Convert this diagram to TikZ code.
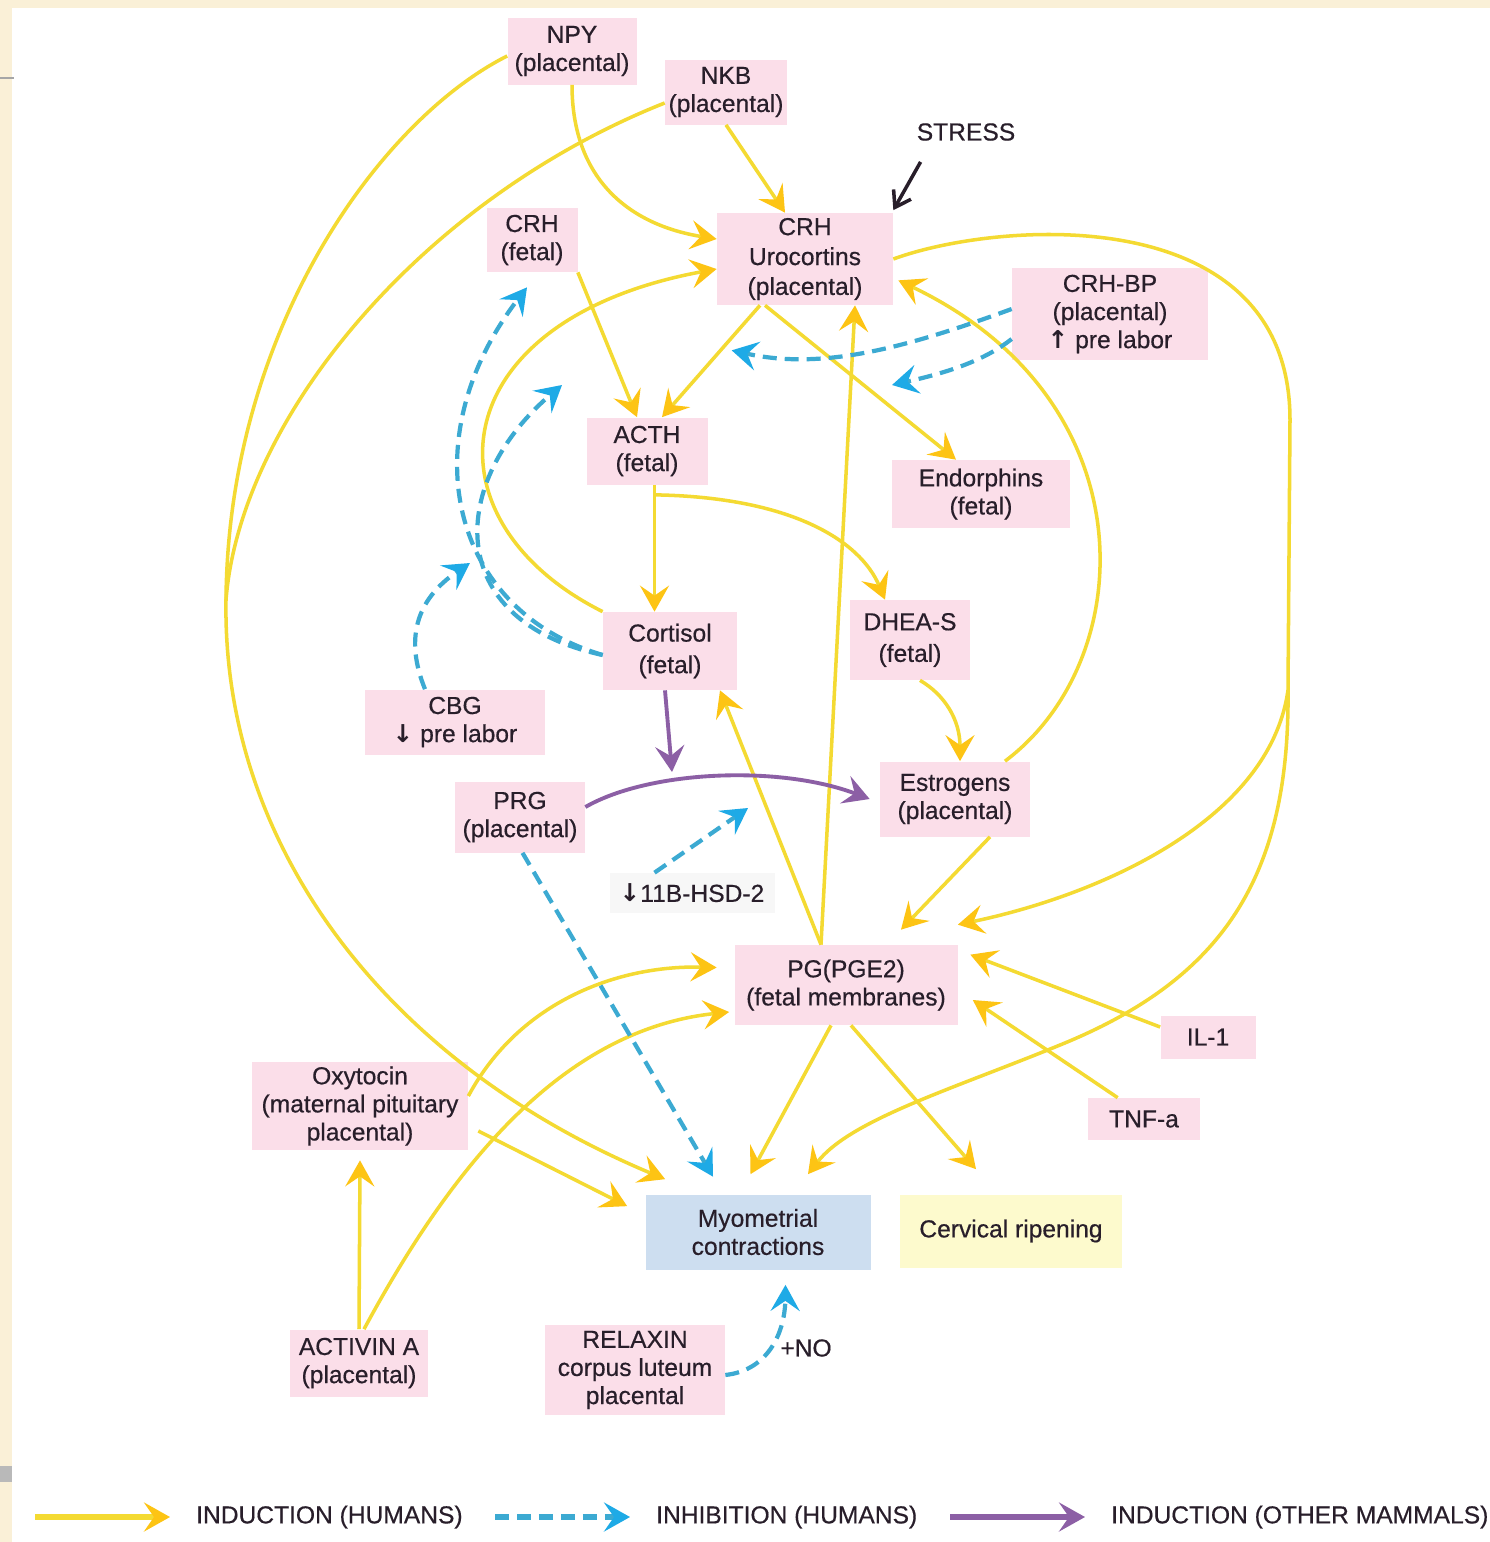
\documentclass[tikz,border=0pt]{standalone}
\usepackage{fontspec}
\setmainfont{Liberation Sans}[FakeBold=0.5]
\newfontfamily\arrowfont{DejaVu Sans}
\usetikzlibrary{arrows.meta,calc}

\definecolor{slidebg}{RGB}{250,240,215}
\definecolor{boxpink}{RGB}{251,222,233}
\definecolor{boxblue}{RGB}{205,222,240}
\definecolor{boxyellow}{RGB}{253,250,205}
\definecolor{inktext}{RGB}{40,30,42}
\definecolor{indline}{RGB}{244,218,50}
\definecolor{indtip}{RGB}{253,196,20}
\definecolor{inhline}{RGB}{60,170,210}
\definecolor{inhtip}{RGB}{30,170,230}
\definecolor{purp}{RGB}{140,95,165}

\newcommand{\up}{{\arrowfont\bfseries ↑}}
\newcommand{\down}{{\arrowfont\bfseries ↓}}

\tikzset{
  hormone/.style={fill=boxpink, text=inktext, align=center, inner sep=0pt,
    font=\fontsize{14}{16}\selectfont},
  sz/.style 2 args={minimum width=#1*0.02cm, minimum height=#2*0.02cm},
  induce/.style={draw=indline, line width=2pt,
    -{Stealth[length=0.52cm,width=0.58cm,inset=0.2cm,color=indtip]}},
  inhibit/.style={draw=inhline, line width=2.4pt, dash pattern=on 0.28cm off 0.16cm,
    -{Stealth[length=0.52cm,width=0.58cm,inset=0.2cm,color=inhtip]}},
  mammal/.style={draw=purp, line width=2.2pt,
    -{Stealth[length=0.52cm,width=0.58cm,inset=0.2cm,color=purp]}},
  legtext/.style={text=inktext, anchor=west, font=\fontsize{14}{16}\selectfont},
}

\begin{document}
\begin{tikzpicture}[x=0.02cm,y=-0.02cm]
		%%%%% START %%%%%
		\useasboundingbox (0,0) rectangle (1490,1542);
		\fill[slidebg] (0,0) rectangle (1490,1542);
		\fill[white] (12,8) rectangle (1490,1542);
		\draw[gray!70, line width=1pt] (0,78) -- (14,78);
		\fill[gray!55] (0,1466) rectangle (12,1482);
		
		% boxes
		\node[hormone, sz={129}{67}] (npy) at (572,51) {NPY\\(placental)};
		\node[hormone, sz={122}{65}] (nkb) at (726,92) {NKB\\(placental)};
		\node[text=inktext, font=\fontsize{14}{16}\selectfont] (stress) at (966,132) {STRESS};
		\node[hormone, sz={91}{64}] (crhf) at (532,240) {CRH\\(fetal)};
		\node[hormone, sz={176}{92}] (crhp) at (805,259) {CRH\\[1pt]Urocortins\\[1pt](placental)};
		\node[hormone, sz={196}{92}] (crhbp) at (1110,314) {CRH-BP\\(placental)\\\up\ pre labor};
		\node[hormone, sz={121}{67}] (acth) at (647,451) {ACTH\\(fetal)};
		\node[hormone, sz={178}{68}] (endo) at (981,494) {Endorphins\\(fetal)};
		\node[hormone, sz={134}{78}] (cort) at (670,651) {Cortisol\\[2pt](fetal)};
		\node[hormone, sz={120}{80}] (dhea) at (910,640) {DHEA-S\\[2pt](fetal)};
		\node[hormone, sz={180}{65}] (cbg) at (455,722) {CBG\\\down\ pre labor};
		\node[hormone, sz={130}{71}] (prg) at (520,817) {PRG\\(placental)};
		\node[hormone, sz={150}{75}] (estr) at (955,799) {Estrogens\\(placental)};
		\node[hormone, fill=gray!6, sz={165}{40}] (hsd) at (692,893) {\down 11B-HSD-2};
		\node[hormone, sz={223}{80}] (pg) at (846,985) {PG(PGE2)\\(fetal membranes)};
		\node[hormone, sz={95}{43}] (il) at (1208,1037) {IL-1};
		\node[hormone, sz={112}{42}] (tnf) at (1144,1119) {TNF-a};
		\node[hormone, sz={216}{88}] (oxy) at (360,1106) {Oxytocin\\(maternal pituitary\\placental)};
		\node[hormone, fill=boxblue, sz={225}{75}] (myo) at (758,1232) {Myometrial\\contractions};
		\node[hormone, fill=boxyellow, sz={222}{73}] (cerv) at (1011,1231) {Cervical ripening};
		\node[hormone, sz={138}{67}] (act) at (359,1363) {ACTIVIN A\\(placental)};
		\node[hormone, sz={180}{90}] (rel) at (635,1370) {RELAXIN\\corpus luteum\\placental};
		\node[text=inktext, font=\fontsize{14}{16}\selectfont] (no) at (806,1348) {+NO};
		
		% points on other arrows
		\coordinate (lmerge) at (226,600);
		\coordinate (rsplit) at (1288,690);
		\coordinate (estcrh) at (892,385);
		\coordinate (acthinh) at (562,385);
		\coordinate (cbginh) at (470,563);
		\coordinate (hsdinh) at (748,808);
		\coordinate (cortinh) at (672,772);
		
		% induction (humans)
		\draw[induce] (npy.south) .. controls (572,180) and (630,225) .. ([yshift=0.4cm]crhp.west);
		\draw[draw=indline, line width=2pt] ([yshift=-0.1cm]npy.west) .. controls (380,120) and (228,330) .. (lmerge);
		\draw[draw=indline, line width=2pt] ([yshift=-0.22cm]nkb.west) .. controls (420,200) and (240,420) .. (lmerge);
		\draw[induce] (lmerge) .. controls (222,840) and (380,1060) .. ([shift={(0.4cm,0.3cm)}]myo.north west);
		\draw[induce] (nkb.south) -- ([xshift=-0.4cm]crhp.north);
		\draw[induce] (crhf.south east) -- ([xshift=-0.2cm]acth.north);
		\draw[induce] ([xshift=-0.9cm]crhp.south) -- ([xshift=0.3cm]acth.north);
		\draw[induce] ([xshift=-0.8cm]crhp.south) -- ([xshift=-0.5cm]endo.north);
		\draw[induce] ([xshift=0.15cm]acth.south) coordinate (acthout) -- (acthout |- cort.north);
		\draw[induce] ([yshift=-0.2cm]acthout) .. controls (790,497) and (860,540) .. ([xshift=-0.5cm]dhea.north);
		\draw[induce] ([xshift=0.2cm]dhea.south) .. controls (945,695) and (960,720) .. ([xshift=0.1cm]estr.north);
		\draw[induce] ([xshift=1cm]estr.north) .. controls (1140,660) and (1150,400) .. ([shift={(0.1cm,0.5cm)}]crhp.south east);
		\draw[draw=indline, line width=2pt] (crhp.east) .. controls (1000,220) and (1290,200) .. (1290,420) -- (rsplit);
		\draw[induce] (rsplit) .. controls (1270,820) and (1100,895) .. ([yshift=0.4cm]pg.north east);
		\draw[induce] (rsplit) .. controls (1290,880) and (1220,980) .. (1060,1045) .. controls (950,1090) and (850,1120) .. ([shift={(1cm,0.4cm)}]myo.north);
		\draw[induce] ([xshift=0.7cm]estr.south) -- ([shift={(1.1cm,0.3cm)}]pg.north);
		\draw[induce] ([xshift=-0.5cm]pg.north) -- ([xshift=1cm]crhp.south);
		\draw[induce] ([xshift=-0.5cm]pg.north) -- ([xshift=1cm]cort.south);
		\draw[induce] ([yshift=0.2cm]il.west) -- ([shift={(0.25cm,-0.2cm)}]pg.north east);
		\draw[induce] ([xshift=0.6cm]tnf.north west) -- ([shift={(0.3cm,-0.3cm)}]pg.east);
		\draw[induce] ([xshift=-0.3cm]pg.south) -- ([shift={(-0.15cm,0.4cm)}]myo.north);
		\draw[induce] ([xshift=0.1cm]pg.south) -- ([shift={(-0.7cm,0.5cm)}]cerv.north);
		\draw[induce] ([yshift=0.2cm]oxy.east) .. controls (520,1000) and (620,965) .. ([shift={(-0.35cm,0.35cm)}]pg.west);
		\draw[induce] ([xshift=0.1cm]act.north) .. controls (450,1170) and (560,1030) .. ([shift={(-0.1cm,-0.54cm)}]pg.west);
		\draw[induce] (act.north) -- ([yshift=-0.2cm]oxy.south);
		\draw[induce] ([shift={(0.2cm,-0.5cm)}]oxy.east) -- ([shift={(-0.36cm,-0.24cm)}]myo.north west);
		\draw[induce] (cort.north west) .. controls (420,520) and (440,320) .. ([yshift=-0.2cm]crhp.west);
		\draw[-{Straight Barb[length=0.3cm,width=0.4cm]}, line width=2pt, inktext] ([shift={(0.2cm,-0.3cm)}]stress.south west) -- ([yshift=0.05cm]crhp.north east);
		
		% inhibition (humans)
		\draw[inhibit] ([yshift=0.1cm]crhbp.west) .. controls (900,350) and (820,370) .. ([shift={(0.3cm,-0.9cm)}]crhp.south west);
		\draw[inhibit] ([yshift=-0.5cm]crhbp.west) .. controls (985,360) and (950,372) .. (estcrh);
		\draw[inhibit] ([yshift=-0.08cm]cort.west) .. controls (450,610) and (410,440) .. ([shift={(-0.1cm,-0.3cm)}]crhf.south);
		\draw[inhibit] ([yshift=-0.08cm]cort.west) .. controls (440,620) and (450,480) .. (acthinh);
		\draw[inhibit] ([xshift=-0.6cm]cbg.north) .. controls (405,640) and (415,600) .. (cbginh);
		\draw[inhibit] ([xshift=-0.75cm]hsd.north) -- (hsdinh);
		\draw[inhibit] ([xshift=0.05cm]prg.south) -- ([shift={(-0.9cm,0.35cm)}]myo.north);
		\draw[inhibit] ([yshift=-0.1cm]rel.east) .. controls (770,1370) and (785,1330) .. ([shift={(0.55cm,-0.3cm)}]myo.south);
		
		% induction (other mammals)
		\draw[mammal] ([xshift=-0.1cm]cort.south) -- (cortinh);
		\draw[mammal] ([yshift=0.2cm]prg.east) .. controls (650,770) and (780,765) .. ([xshift=-0.2cm]estr.west);
		
		% legend
		\node[legtext] (leg1) at (190,1517) {INDUCTION (HUMANS)};
		\node[legtext] (leg2) at (650,1517) {INHIBITION (HUMANS)};
		\node[legtext] (leg3) at (1105,1517) {INDUCTION (OTHER MAMMALS)};
		\coordinate (l1) at (35,1517);
		\coordinate (l2) at (495,1517);
		\coordinate (l3) at (950,1517);
		\draw[induce, line width=3pt] (l1) -- ([xshift=-0.4cm]leg1.west);
		\draw[inhibit, line width=3pt] (l2) -- ([xshift=-0.4cm]leg2.west);
		\draw[mammal, line width=3pt] (l3) -- ([xshift=-0.4cm]leg3.west);
		%%%%% END %%%%%
\end{tikzpicture}
\end{document}
